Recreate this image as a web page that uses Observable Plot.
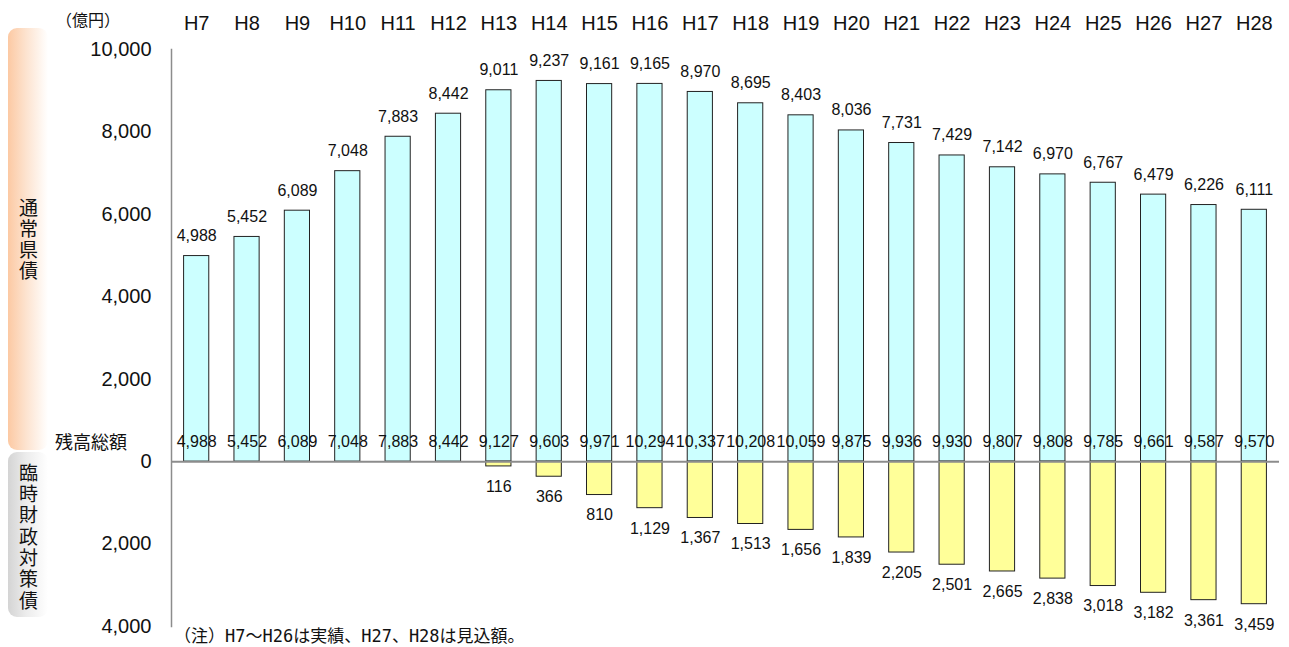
<!DOCTYPE html>
<html><head><meta charset="utf-8">
<script src="https://cdn.jsdelivr.net/npm/d3@7"></script>
<script src="https://cdn.jsdelivr.net/npm/@observablehq/plot@0.6"></script>
<style>
body{margin:0;background:#fff;}
#wrap{position:relative;width:1289px;height:647px;font-family:"Liberation Sans",Arial,sans-serif;overflow:hidden;}
#wrap svg{position:absolute;left:0;top:0;}
#wrap svg g[aria-label="y-axis tick label"], #wrap svg g[aria-label="y-axis tick label"] text{font-size:20px !important;}
#wrap svg g[aria-label="x-axis tick label"], #wrap svg g[aria-label="x-axis tick label"] text{font-size:20px !important;}
.band{position:absolute;left:8px;width:40px;border-radius:9px;}
.vt{position:absolute;left:8px;width:40px;writing-mode:vertical-rl;text-orientation:upright;font-family:"Noto Sans CJK JP",sans-serif;font-size:19px;line-height:40px;color:#111;}
.lbl{position:absolute;font-family:"Noto Sans CJK JP",sans-serif;color:#111;white-space:nowrap;}
</style></head>
<body>
<div id="wrap">
  <div class="band" style="top:28px;height:422px;background:linear-gradient(to right,#fcc9a3,#fde3cf 45%,#ffffff 100%);"></div>
  <div class="band" style="top:452px;height:165px;background:linear-gradient(to right,#d4d4d4,#ececec 45%,#ffffff 100%);"></div>
  <div class="vt" style="top:198px;letter-spacing:2px;">通常県債</div>
  <div class="vt" style="top:463px;letter-spacing:2.3px;">臨時財政対策債</div>
  <div class="lbl" style="left:56px;top:7px;font-size:16px;">（億円）</div>
  <div class="lbl" style="left:55px;top:428px;font-size:18px;">残高総額</div>
  <div class="lbl" style="left:174px;top:628px;font-size:17px;line-height:17px;font-family:'DejaVu Sans Mono','Noto Sans CJK JP',monospace;">（注）H7～H26は実績、H27、H28は見込額。</div>
</div>
<script>
const years = ["H7","H8","H9","H10","H11","H12","H13","H14","H15","H16","H17","H18","H19","H20","H21","H22","H23","H24","H25","H26","H27","H28"];
const tsujo = [4988,5452,6089,7048,7883,8442,9011,9237,9161,9165,8970,8695,8403,8036,7731,7429,7142,6970,6767,6479,6226,6111];
const rinji = [0,0,0,0,0,0,116,366,810,1129,1367,1513,1656,1839,2205,2501,2665,2838,3018,3182,3361,3459];
const total = [4988,5452,6089,7048,7883,8442,9127,9603,9971,10294,10337,10208,10059,9875,9936,9930,9807,9808,9785,9661,9587,9570];
const yTicks = [10000,8000,6000,4000,2000,0,-2000,-4000];

const rows = years.map((y,i)=>({year:y, tsujo:tsujo[i], rinji:rinji[i], total:total[i]}));
const neg = rows.filter(d=>d.rinji>0);
const fmt = d3.format(",");

const chart = Plot.plot({
  width:1289, height:647,
  marginLeft:171, marginRight:10, marginTop:49, marginBottom:21,
  style:{fontFamily:"Liberation Sans, Arial, sans-serif", background:"transparent"},
  x:{type:"band", domain:years, paddingInner:0.5, paddingOuter:0.25, round:false, axis:null, label:null},
  y:{domain:[-4000,10000], axis:null, label:null},
  marks:[
    Plot.frame({anchor:"left", stroke:"#8c8c8c", strokeWidth:1.5, strokeOpacity:1}),
    Plot.axisY({ticks:yTicks, tickSize:0, tickPadding:20, tickFormat:d=>fmt(Math.abs(d)), fontSize:20, fill:"#111", label:null}),
    Plot.axisX({anchor:"top", tickSize:0, tickPadding:20, fontSize:20, label:null, fill:"#111"}),
    Plot.barY(rows, {x:"year", y:"tsujo", fill:"#ccffff", stroke:"#222", strokeWidth:1}),
    Plot.barY(neg, {x:"year", y:d=>-d.rinji, fill:"#ffff99", stroke:"#222", strokeWidth:1}),
    Plot.ruleY([0], {stroke:"#8c8c8c", strokeWidth:2}),
    Plot.text(rows, {x:"year", y:"tsujo", text:d=>fmt(d.tsujo), lineAnchor:"bottom", dy:-15, fontSize:16, fill:"#111"}),
    Plot.text(neg, {x:"year", y:d=>-d.rinji, text:d=>fmt(d.rinji), lineAnchor:"top", dy:14, fontSize:16, fill:"#111"}),
    Plot.text(rows, {x:"year", y:0, text:d=>fmt(d.total), dy:-20, fontSize:16, fill:"#111"})
  ]
});
document.getElementById("wrap").appendChild(chart);
</script>
</body></html>
